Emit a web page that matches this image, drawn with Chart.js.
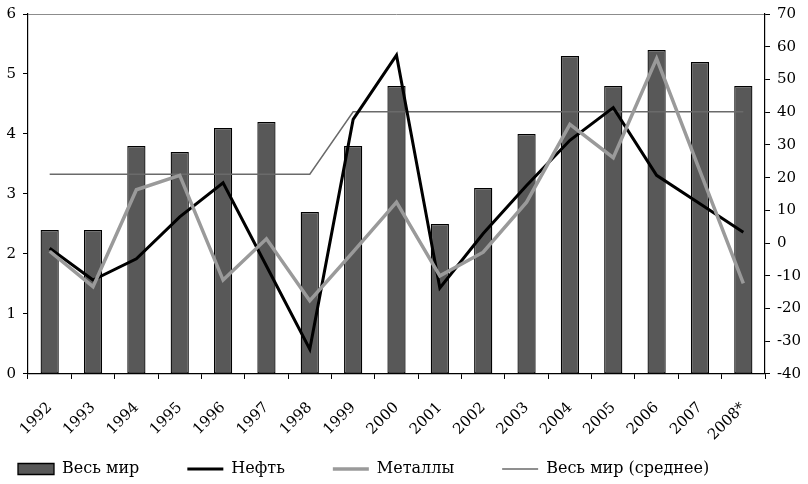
<!DOCTYPE html>
<html>
<head>
<meta charset="utf-8">
<script src="https://cdn.jsdelivr.net/npm/chart.js@4/dist/chart.umd.min.js"></script>
<style>
  html, body { margin: 0; padding: 0; background: #fff; }
  #wrap { width: 808px; height: 484px; }
</style>
</head>
<body>
<div id="wrap"><canvas id="chart"></canvas></div>
<script>
// years on the x axis
const years = ["1992", "1993", "1994", "1995", "1996", "1997", "1998", "1999", "2000",
  "2001", "2002", "2003", "2004", "2005", "2006", "2007", "2008*"];

// bars, left axis
const worldGrowth = [2.4, 2.4, 3.8, 3.7, 4.1, 4.2, 2.7, 3.8, 4.8, 2.5, 3.1, 4.0, 5.3, 4.8, 5.4, 5.2, 4.8];
// period averages, left axis
const worldAverage = [3.33, 3.33, 3.33, 3.33, 3.33, 3.33, 3.33, 4.37, 4.37, 4.37, 4.37, 4.37, 4.37, 4.37, 4.37, 4.37, 4.37];
// price lines, right axis
const oil = [-1.6, -11.3, -4.8, 8, 18.4, -7, -32.4, 37.8, 57.4, -13.7, 2.9, 17.6, 31.4, 41.4, 20.7, 12, 3.3];
const metals = [-2.5, -13.3, 16.3, 20.7, -11.3, 1.3, -17.6, -2.7, 12.5, -10, -2.8, 12.5, 36.3, 26.1, 56.4, 22, -12.3];

const serif = "'DejaVu Serif', serif";

// the legend starts near the left edge with wide gaps between items
const legendShift = {
  id: "legendShift",
  afterLayout(chart) {
    const lg = chart.legend;
    if (!lg) return;
    lg.left -= 36;
    lg.top -= 51;
  },
};

// fixed axis widths, no extra label padding
function fixY(width) {
  return (scale) => {
    scale.width = width;
    scale.paddingTop = 0;
    scale.paddingBottom = 0;
  };
}

const config = {
  type: "bar",
  data: {
    labels: years,
    datasets: [
      {
        label: "Весь мир",
        data: worldGrowth,
        yAxisID: "y",
        backgroundColor: "#585858",
        borderColor: "#000",
        borderWidth: 1.3,
        borderSkipped: false,
        barPercentage: 0.42,
        categoryPercentage: 1,
        pointStyle: "rect",
        order: 4,
      },
      {
        type: "line",
        label: "Нефть",
        data: oil,
        yAxisID: "y1",
        borderColor: "#000",
        backgroundColor: "#000",
        borderWidth: 3,
        pointRadius: 0,
        tension: 0,
        pointStyle: "line",
        order: 2,
      },
      {
        type: "line",
        label: "Металлы",
        data: metals,
        yAxisID: "y1",
        borderColor: "#9a9a9a",
        backgroundColor: "#9a9a9a",
        borderWidth: 3.5,
        pointRadius: 0,
        tension: 0,
        pointStyle: "line",
        order: 1,
      },
      {
        type: "line",
        label: "Весь мир (среднее)",
        data: worldAverage,
        yAxisID: "y",
        borderColor: "#6a6a6a",
        backgroundColor: "#6a6a6a",
        borderWidth: 1.5,
        pointRadius: 0,
        tension: 0,
        pointStyle: "line",
        order: 3,
      },
    ],
  },
  options: {
    responsive: true,
    maintainAspectRatio: false,
    animation: false,
    layout: { padding: { left: 6, right: 2, top: 14, bottom: 0 } },
    plugins: {
      tooltip: { enabled: false },
      legend: {
        position: "bottom",
        align: "start",
        maxHeight: 20,
        labels: {
          usePointStyle: true,
          pointStyleWidth: 36,
          boxHeight: 11,
          padding: 48,
          color: "#000",
          font: { size: 16, family: serif },
          sort: (a, b) => a.datasetIndex - b.datasetIndex,
        },
      },
    },
    scales: {
      x: {
        offset: true,
        border: { color: "#000", width: 1.2 },
        grid: { drawOnChartArea: false, offset: true, tickLength: 5, color: "#000" },
        ticks: {
          color: "#000",
          font: { size: 15, family: serif },
          maxRotation: 45,
          minRotation: 45,
          padding: 20,
        },
        afterFit(scale) {
          scale.paddingLeft = 0;
          scale.paddingRight = 0;
        },
      },
      y: {
        position: "left",
        min: 0,
        max: 6,
        border: { color: "#000", width: 1.2 },
        grid: {
          tickLength: 5,
          color: (c) => (c.tick && c.tick.value === 6 ? "#8c8c8c" : "rgba(0,0,0,0)"),
          tickColor: "#000",
        },
        ticks: { stepSize: 1, color: "#000", padding: 7, font: { size: 15, family: serif } },
        afterFit: fixY(22),
      },
      y1: {
        position: "right",
        min: -40,
        max: 70,
        border: { color: "#000", width: 1.2 },
        grid: { drawOnChartArea: false, tickLength: 5, color: "#000" },
        ticks: { stepSize: 10, color: "#000", padding: 7, font: { size: 15, family: serif } },
        afterFit: fixY(41),
      },
    },
  },
  plugins: [legendShift],
};

new Chart(document.getElementById("chart"), config);
</script>
</body>
</html>
